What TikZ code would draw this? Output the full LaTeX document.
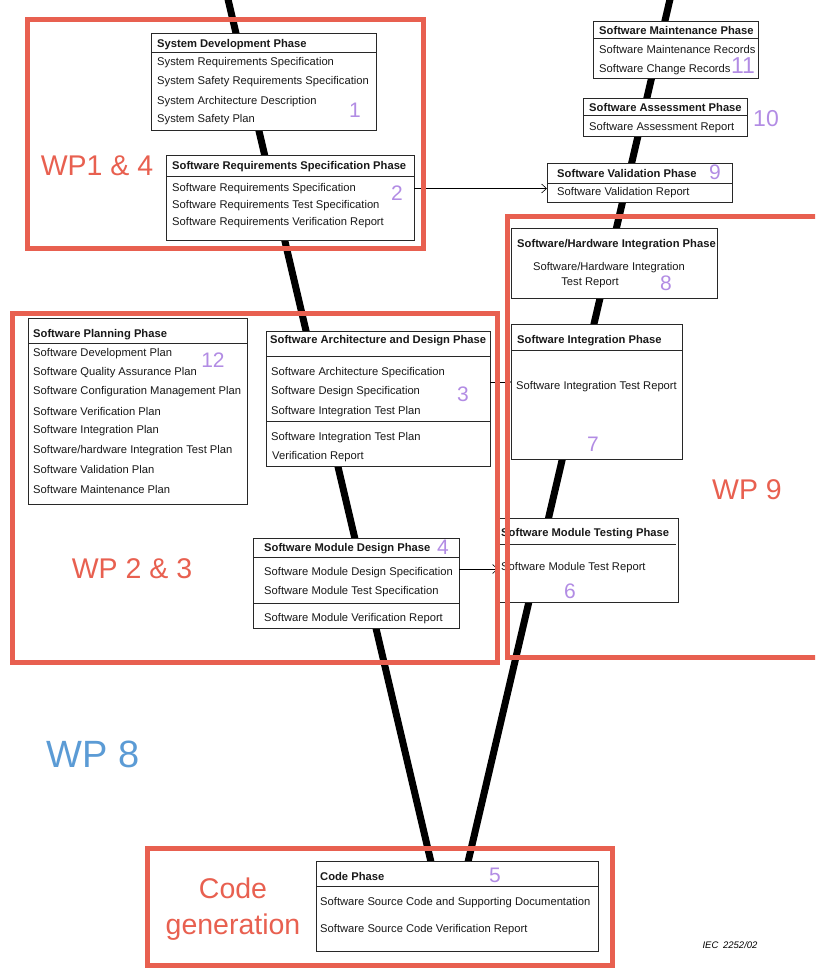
\documentclass[tikz,border=0pt]{standalone}
\usepackage{fontspec}
\setmainfont{Liberation Sans}
\usetikzlibrary{arrows.meta}
\definecolor{redc}{RGB}{232,96,80}
\definecolor{bluec}{RGB}{91,155,213}
\definecolor{numc}{RGB}{178,140,228}
\definecolor{boxc}{RGB}{40,40,40}
\begin{document}
\begin{tikzpicture}[x=1pt,y=-1pt,
  box/.style={draw=boxc, line width=0.8pt, fill=white, anchor=north west, inner sep=0pt, outer sep=0pt},
  sepline/.style={draw=boxc, line width=0.8pt},
  item/.style={anchor=west, inner sep=0pt, yshift=-1.5pt, text=black!90, font=\fontsize{11.2}{13}\selectfont},
  head/.style={item, font=\fontsize{11.2}{13}\selectfont\bfseries},
  citem/.style={item, anchor=center},
  num/.style={inner sep=0pt, text=numc, font=\fontsize{21}{21}\selectfont},
  bignum/.style={num, font=\fontsize{23}{23}\selectfont},
  frame/.style={draw=redc, line width=5pt, anchor=north west, inner sep=0pt, outer sep=0pt},
  wplabel/.style={inner sep=0pt, text=redc, font=\fontsize{28.5}{30}\selectfont},
  vline/.style={line width=7pt, black},
  conn/.style={line width=0.6pt, black, -{Straight Barb[length=5pt,width=9pt]}}
]
\useasboundingbox (0,0) rectangle (815,968);
\clip (0,0) rectangle (815,968);

% V lines
\coordinate (Ltop) at (227,-5);
\coordinate (Lbot) at (431,862);
\coordinate (Rtop) at (671,-5);
\coordinate (Rbot) at (468,862);
\draw[vline] (Ltop) -- (Lbot);
\draw[vline] (Rtop) -- (Rbot);

% Box 1
\node[box, minimum width=225pt, minimum height=97pt] (b1) at (151,33) {};
\draw[sepline] ([yshift=-19pt]b1.north west) -- ([yshift=-19pt]b1.north east);
\node[head] (h1) at (157,43) {System Development Phase};
\node[item] (t1a) at (157,61) {System Requirements Specification};
\node[item] (t1b) at (157,80) {System Safety Requirements Specification};
\node[item] (t1c) at (157,100) {System Architecture Description};
\node[item] (t1d) at (157,118) {System Safety Plan};
\node[num] (n1) at (355,110) {1};

% Box 2
\node[box, minimum width=248pt, minimum height=85pt] (b2) at (166,155) {};
\draw[sepline] ([yshift=-21pt]b2.north west) -- ([yshift=-21pt]b2.north east);
\node[head] (h2) at (172,165) {Software Requirements Specification Phase};
\node[item] (t2a) at (172,187) {Software Requirements Specification};
\node[item] (t2b) at (172,204) {Software Requirements Test Specification};
\node[item] (t2c) at (172,221) {Software Requirements Verification Report};
\node[num] (n2) at (397,193) {2};

% Box 11
\node[box, minimum width=165pt, minimum height=57pt] (b11) at (593,21) {};
\draw[sepline] ([yshift=-17pt]b11.north west) -- ([yshift=-17pt]b11.north east);
\node[head] (h11) at (599,29) {Software Maintenance Phase};
\node[item] (t11a) at (599,48) {Software Maintenance Records};
\node[item] (t11b) at (599,68) {Software Change Records};
\node[bignum] (n11) at (743,66) {11};

% Box 10
\node[box, minimum width=164pt, minimum height=38pt] (b10) at (583,98) {};
\draw[sepline] ([yshift=-17pt]b10.north west) -- ([yshift=-17pt]b10.north east);
\node[head] (h10) at (589,106) {Software Assessment Phase};
\node[item] (t10a) at (589,126) {Software Assessment Report};
\node[bignum] (n10) at (766,119) {10};

% Box 9
\node[box, minimum width=185pt, minimum height=39pt] (b9) at (547,163) {};
\draw[sepline] ([yshift=-20pt]b9.north west) -- ([yshift=-20pt]b9.north east);
\node[head] (h9) at (557,172) {Software Validation Phase};
\node[item] (t9a) at (557,191) {Software Validation Report};
\node[num] (n9) at (715,172) {9};

% Box 8
\node[box, minimum width=206pt, minimum height=70pt] (b8) at (511,228) {};
\node[head] (h8) at (517,243) {Software/Hardware Integration Phase};
\node[citem] (t8a) at (609,266) {Software/Hardware Integration};
\node[citem] (t8b) at (590,281) {Test Report};
\node[num] (n8) at (666,283) {8};

% Box 7
\node[box, minimum width=171pt, minimum height=135pt] (b7) at (511,324) {};
\draw[sepline] ([yshift=-26pt]b7.north west) -- ([yshift=-26pt]b7.north east);
\node[head] (h7) at (517,339) {Software Integration Phase};
\node[item] (t7a) at (516,385) {Software Integration Test Report};
\node[num] (n7) at (593,444) {7};

% Box 6
\node[box, minimum width=180pt, minimum height=84pt] (b6) at (498,518) {};
\draw[sepline] ([yshift=-26pt]b6.north west) -- ([yshift=-26pt,xshift=-2pt]b6.north east);
\node[head] (h6) at (501,532) {Software Module Testing Phase};
\node[item] (t6a) at (501,566) {Software Module Test Report};
\node[num] (n6) at (570,591) {6};

% Box 12
\node[box, minimum width=219pt, minimum height=186pt] (b12) at (28,318) {};
\draw[sepline] ([yshift=-25pt]b12.north west) -- ([yshift=-25pt]b12.north east);
\node[head] (h12) at (33,333) {Software Planning Phase};
\node[item] (t12a) at (33,352) {Software Development Plan};
\node[item] (t12b) at (33,371) {Software Quality Assurance Plan};
\node[item] (t12c) at (33,390) {Software Configuration Management Plan};
\node[item] (t12d) at (33,410) {Software Verification Plan};
\node[item] (t12e) at (33,429) {Software Integration Plan};
\node[item] (t12f) at (33,449) {Software/hardware Integration Test Plan};
\node[item] (t12g) at (33,468) {Software Validation Plan};
\node[item] (t12h) at (33,488) {Software Maintenance Plan};
\node[num] (n12) at (213,360) {12};

% Box 3
\node[box, minimum width=224pt, minimum height=135pt] (b3) at (266,331) {};
\draw[sepline] ([yshift=-25pt]b3.north west) -- ([yshift=-25pt]b3.north east);
\draw[sepline] ([yshift=-90pt]b3.north west) -- ([yshift=-90pt]b3.north east);
\node[head] (h3) at (270,339) {Software Architecture and Design Phase};
\node[item] (t3a) at (271,371) {Software Architecture Specification};
\node[item] (t3b) at (271,390) {Software Design Specification};
\node[item] (t3c) at (271,410) {Software Integration Test Plan};
\node[item] (t3d) at (271,436) {Software Integration Test Plan};
\node[item] (t3e) at (272,455) {Verification Report};
\node[num] (n3) at (463,394) {3};

% Box 4
\node[box, minimum width=206pt, minimum height=90pt] (b4) at (253,538) {};
\draw[sepline] ([yshift=-19pt]b4.north west) -- ([yshift=-19pt]b4.north east);
\draw[sepline] ([yshift=-65pt]b4.north west) -- ([yshift=-65pt]b4.north east);
\node[head] (h4) at (264,547) {Software Module Design Phase};
\node[item] (t4a) at (264,571) {Software Module Design Specification};
\node[item] (t4b) at (264,590) {Software Module Test Specification};
\node[item] (t4c) at (264,617) {Software Module Verification Report};
\node[num] (n4) at (443,547) {4};

% Box 5
\node[box, minimum width=282pt, minimum height=90pt] (b5) at (316,861) {};
\draw[sepline] ([yshift=-25pt]b5.north west) -- ([yshift=-25pt]b5.north east);
\node[head] (h5) at (320,875) {Code Phase};
\node[item] (t5a) at (320,901) {Software Source Code and Supporting Documentation};
\node[item] (t5b) at (320,928) {Software Source Code Verification Report};
\node[num] (n5) at (495,875) {5};

% connectors
\coordinate (c37) at (0,382);
\coordinate (c46) at (0,569);
\draw[conn] (b2.east |- t2a) -- (b9.west |- t2a);
\draw[conn] (b3.east |- c37) -- (b7.west |- c37);
\draw[conn] (b4.east |- c46) -- (b6.west |- c46);

% red frames
\node[frame, minimum width=396pt, minimum height=228pt] (wp14) at (27,20) {};
\node[frame, minimum width=485pt, minimum height=349pt] (wp23) at (12,313) {};
\node[frame, minimum width=330pt, minimum height=440pt] (wp9) at (507,217) {};
\node[frame, minimum width=465pt, minimum height=117pt] (wpc) at (147,848) {};

% labels
\node[wplabel] (l14) at (97,166) {WP1 \& 4};
\node[wplabel] (l23) at (132,569) {WP 2 \& 3};
\node[wplabel] (l9) at (747,490) {WP 9};
\node[wplabel] (lc1) at (233,888) {Code};
\node[wplabel] (lc2) at (233,927) {generation};
\node[inner sep=0pt, text=bluec, font=\fontsize{38}{40}\selectfont] (l8) at (93,754) {WP 8};
\node[inner sep=0pt, font=\itshape\fontsize{9.5}{11}\selectfont] (iec) at (730,945) {IEC\enspace 2252/02};
\end{tikzpicture}
\end{document}
